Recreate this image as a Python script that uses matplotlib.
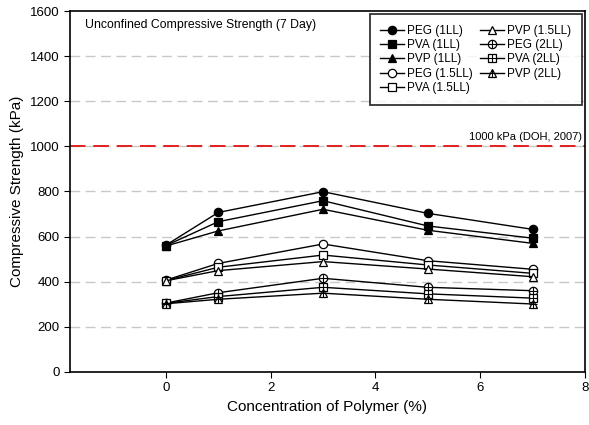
import matplotlib
matplotlib.use("Agg")
import matplotlib.pyplot as plt
from matplotlib.lines import Line2D

plt.rcParams['font.family'] = ['Liberation Sans', 'DejaVu Sans']

# concentration of polymer (%)
conc = [0, 1, 3, 5, 7]

peg_1ll = [562, 707, 799, 703, 632]
pva_1ll = [560, 666, 759, 647, 593]
pvp_1ll = [558, 625, 721, 628, 570]
peg_15ll = [407, 481, 567, 493, 455]
pva_15ll = [405, 464, 518, 474, 437]
pvp_15ll = [404, 449, 489, 456, 422]
peg_2ll = [305, 351, 415, 375, 360]
pva_2ll = [304, 334, 375, 346, 327]
pvp_2ll = [302, 322, 349, 322, 301]

labels = ["PEG (1LL)", "PVA (1LL)", "PVP (1LL)", "PEG (1.5LL)", "PVA (1.5LL)",
          "PVP (1.5LL)", "PEG (2LL)", "PVA (2LL)", "PVP (2LL)"]
series = [peg_1ll, pva_1ll, pvp_1ll, peg_15ll, pva_15ll,
          pvp_15ll, peg_2ll, pva_2ll, pvp_2ll]
markers = ['o', 's', '^', 'o', 's', '^', 'o', 's', '^']
faces = ['black', 'black', 'black', 'white', 'white', 'white', 'white', 'white', 'white']
crossed = [False] * 6 + [True] * 3

limit = 1000
limit_label = "1000 kPa (DOH, 2007)"

fig = plt.figure(figsize=(5.89, 4.25), dpi=100)
ax = fig.add_axes([0.119, 0.125, 0.874, 0.849])

for yv in range(200, 1600, 200):
    ax.axhline(yv, color='#c8c8c8', lw=1.0, ls=(0, (7, 4)), zorder=0)
ax.axhline(limit, color='#e02020', lw=1.4, ls=(0, (8, 4)), zorder=1)
ax.text(7.95, limit + 18, limit_label, ha='right', va='bottom', fontsize=8)

handles = []
for vals, lab, m, fc, cr in zip(series, labels, markers, faces, crossed):
    ax.plot(conc, vals, color='black', lw=1.0, marker=m, ms=6,
            mfc=fc, mec='black', mew=0.9, zorder=3)
    h = Line2D([], [], color='black', lw=1.0, marker=m, ms=6,
               mfc=fc, mec='black', mew=0.9)
    if cr:
        ax.plot(conc, vals, ls='none', marker='+', ms=6, mec='black',
                mew=0.8, zorder=4)
        h = (h, Line2D([], [], ls='none', marker='+', ms=6, mec='black', mew=0.8))
    handles.append(h)

ax.set_xlim(-1.83, 8)
ax.set_ylim(0, 1600)
ax.set_xticks([0, 2, 4, 6, 8])
ax.set_yticks(range(0, 1601, 200))
ax.tick_params(labelsize=9.5, direction='out', length=4)
ax.set_xlabel("Concentration of Polymer (%)", fontsize=11)
ax.set_ylabel("Compressive Strength (kPa)", fontsize=11)
for sp in ax.spines.values():
    sp.set_linewidth(1.2)

ax.text(-1.55, 1565, "Unconfined Compressive Strength (7 Day)", fontsize=8.8,
        va='top', ha='left')

leg = ax.legend(handles, labels, ncol=2, loc='upper right',
                bbox_to_anchor=(0.997, 0.995), borderaxespad=0.1,
                fontsize=8.5, frameon=True,
                fancybox=False, edgecolor='black', handlelength=2.0,
                handletextpad=0.3, columnspacing=0.6, labelspacing=0.2,
                borderpad=0.9)
leg.get_frame().set_linewidth(1.3)

fig.savefig("out.png", dpi=100)
